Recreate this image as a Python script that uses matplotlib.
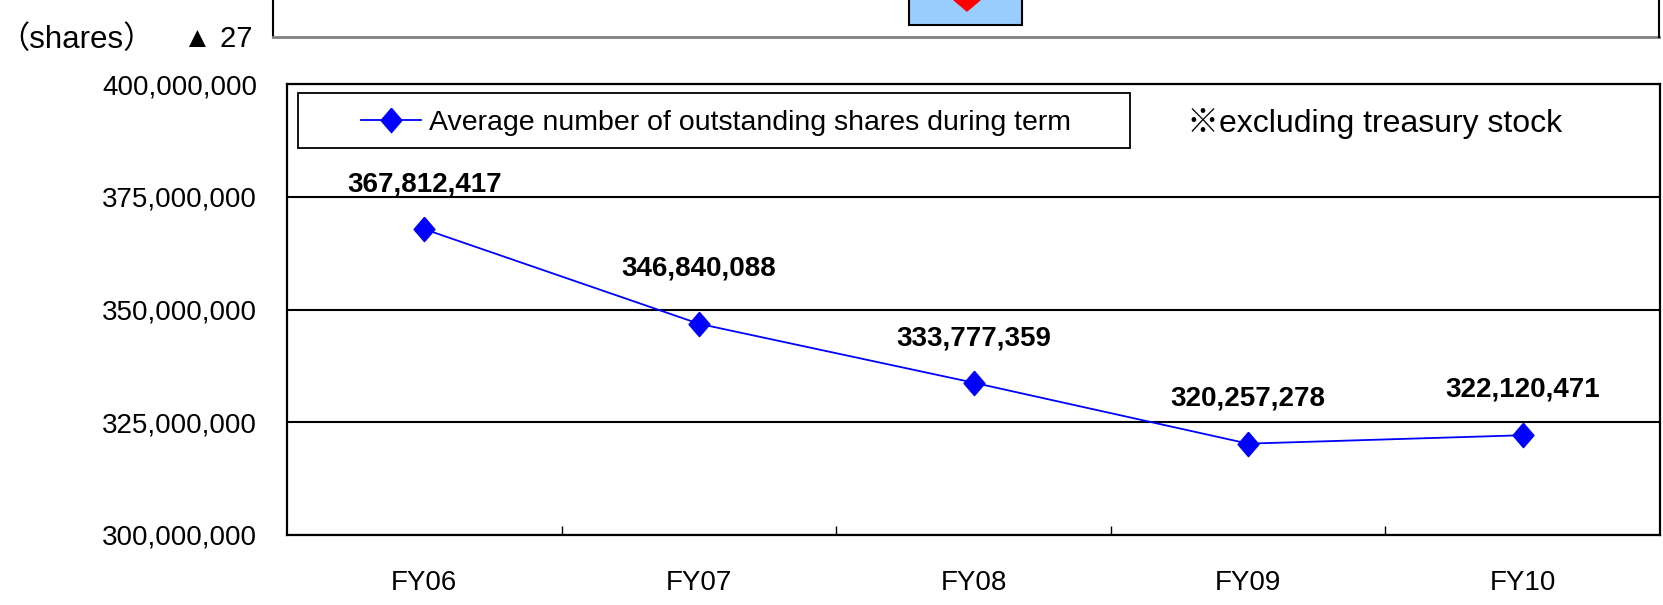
import matplotlib
matplotlib.use("Agg")
import matplotlib.pyplot as plt
from matplotlib import font_manager
from matplotlib.patches import Rectangle, Polygon
from matplotlib.lines import Line2D
from matplotlib.ticker import FuncFormatter, FixedLocator

# data
years = ["FY06", "FY07", "FY08", "FY09", "FY10"]
avg_shares = [367812417, 346840088, 333777359, 320257278, 322120471]
y_ticks = [300000000, 325000000, 350000000, 375000000, 400000000]
series_name = "Average number of outstanding shares during term"
note_text = "※excluding treasury stock"

W, H = 1663, 605

installed = {f.name for f in font_manager.fontManager.ttflist}
base = ["Liberation Sans", "Noto Sans CJK JP", "DejaVu Sans"]
plt.rcParams["font.family"] = base
if "Liberation Sans Narrow" in installed:
    legend_family = ["Liberation Sans Narrow"] + base
    legend_size = 24
else:
    legend_family = base
    legend_size = 20.5


def fx(x):
    return x / W


def fy(y):
    return 1 - y / H


fig = plt.figure(figsize=(W / 100, H / 100), dpi=100)
fig.patch.set_facecolor("white")

# plot area in pixels: left 287, right 1660, top 84, bottom 535
ax = fig.add_axes([fx(287), fy(535), (1660 - 287) / W, (535 - 84) / H])

# diamond a bit taller than wide
diamond = [(0, 1), (0.86, 0), (0, -1), (-0.86, 0), (0, 1)]
x = list(range(len(years)))
ax.plot(x, avg_shares, color="#0000FF", lw=1.3, marker=diamond,
        markersize=17.5, markerfacecolor="#0000FF", markeredgecolor="#0000FF",
        label=series_name, zorder=3, clip_on=False)

# data labels (pixel offsets above the markers)
label_dy = [45, 55, 44, 45, 46]
for i, v in enumerate(avg_shares):
    ax.annotate(f"{v:,}", (i, v), xytext=(0, label_dy[i] * 0.72),
                textcoords="offset points", ha="center", va="center",
                fontsize=20, fontweight="bold", color="black", zorder=5)

ax.set_xlim(-0.5, len(years) - 0.5)
ax.set_ylim(y_ticks[0], y_ticks[-1])
ax.set_yticks(y_ticks)
ax.yaxis.set_major_formatter(FuncFormatter(lambda v, p: f"{int(v):,}"))
ax.set_xticks(x)
ax.set_xticklabels(years)
ax.xaxis.set_minor_locator(FixedLocator([i + 0.5 for i in x[:-1]]))

ax.tick_params(axis="y", length=0, pad=21.6, labelsize=20)
ax.tick_params(axis="x", which="major", length=0, pad=25.5, labelsize=20)
ax.tick_params(axis="x", which="minor", direction="in", length=6.5,
               width=1.0, color="black")

ax.grid(axis="y", color="black", lw=1.5)
ax.set_axisbelow(True)
for s in ax.spines.values():
    s.set_color("black")
    s.set_linewidth(1.6)

# legend box
ax.add_patch(Rectangle((fx(298), fy(148)), (1130 - 298) / W, (148 - 93) / H,
                       transform=fig.transFigure, facecolor="white",
                       edgecolor="black", lw=1.3, zorder=4, clip_on=False))
leg = ax.legend(loc="center left", bbox_to_anchor=(fx(361), fy(123)),
                bbox_transform=fig.transFigure, frameon=False,
                borderpad=0, borderaxespad=0, handlelength=2.09,
                handletextpad=0.3, prop={"family": legend_family,
                                         "size": legend_size})
leg.set_zorder(6)

fig.text(fx(1187), fy(132), note_text, fontsize=23, ha="left",
         va="baseline")

# unit labels top-left
fig.text(fx(-2), fy(48), "（shares）", fontsize=22.5, ha="left", va="baseline")
fig.text(fx(183), fy(47), "▲ 27", fontsize=21, ha="left", va="baseline")

# piece of the chart above (cut off by the crop)
fig.add_artist(Line2D([fx(273), fx(273)], [fy(0), fy(37)], color="black",
                      lw=1.5, transform=fig.transFigure))
fig.add_artist(Line2D([fx(273), fx(1659)], [fy(37), fy(37)], color="#808080",
                      lw=2, transform=fig.transFigure))
fig.add_artist(Line2D([fx(1659), fx(1659)], [fy(0), fy(37)], color="black",
                      lw=1.5, transform=fig.transFigure))
fig.add_artist(Rectangle((fx(909), fy(25)), (1022 - 909) / W, 35 / H,
                         transform=fig.transFigure, facecolor="#99CCFF",
                         edgecolor="black", lw=1.5))
fig.add_artist(Polygon([(fx(967), fy(11)), (fx(980), fy(0)),
                        (fx(967), fy(-11)), (fx(954), fy(0))],
                       closed=True, transform=fig.transFigure,
                       facecolor="red", edgecolor="red"))

fig.savefig("out.png", dpi=100, facecolor="white")
